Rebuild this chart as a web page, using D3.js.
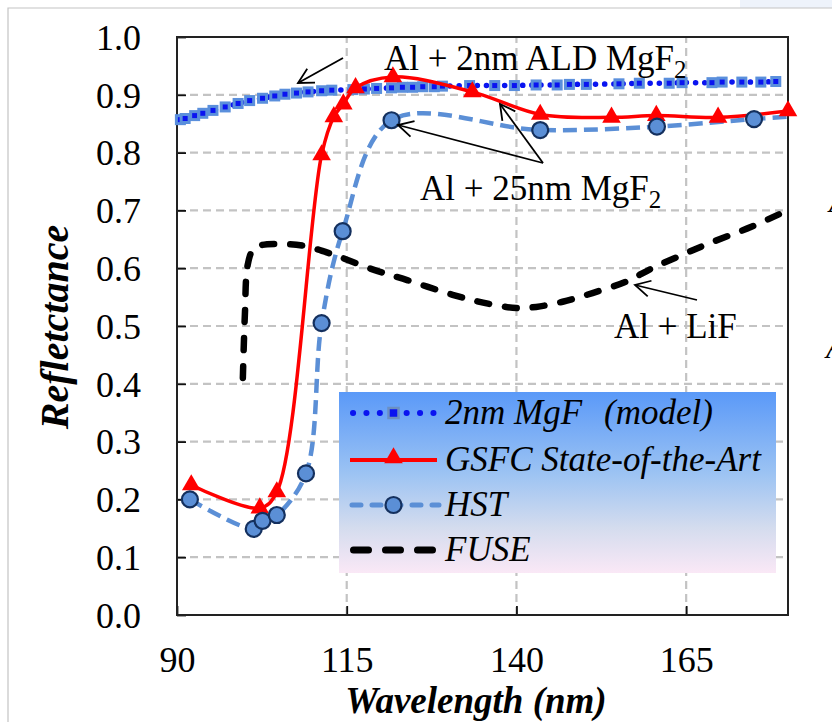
<!DOCTYPE html>
<html>
<head>
<meta charset="utf-8">
<script src="https://cdn.jsdelivr.net/npm/d3@7"></script>
<style>
  body { margin: 0; background: #fff; }
  text { font-family: "Liberation Serif", "Times New Roman", serif; fill: #000; }
</style>
</head>
<body>
<div id="chart"></div>
<script>
// DATA
const xTicks = [90, 115, 140, 165];
const yTicks = [0, 0.1, 0.2, 0.3, 0.4, 0.5, 0.6, 0.7, 0.8, 0.9, 1.0];

// 2nm MgF2 model
const modelWl = [90.5, 91.2, 92.6, 93.8, 95.3, 97.1, 99.0, 100.7, 102.6, 104.4, 105.9, 107.6, 109.3, 111.3, 112.8,
                 115.9, 117.6, 119.4, 121.6, 123.2, 124.7, 126.2, 127.9, 129.1, 133.1, 136.8, 139.7, 142.9, 146.0,
                 147.8, 150.3, 155.1, 158.1, 162.5, 164.4, 168.8, 170.3, 173.2, 176.0, 178.2];
const modelR  = [0.857, 0.859, 0.864, 0.868, 0.873, 0.879, 0.885, 0.890, 0.894, 0.898, 0.901, 0.903, 0.905, 0.907, 0.908,
                 0.909, 0.910, 0.911, 0.912, 0.913, 0.913, 0.914, 0.914, 0.915, 0.916, 0.916, 0.916, 0.917, 0.917,
                 0.918, 0.918, 0.919, 0.920, 0.920, 0.921, 0.921, 0.922, 0.922, 0.922, 0.923];

// GSFC state-of-the-art
const gsfcWl = [92.1, 102.2, 104.7, 111.3, 113.1, 114.5, 116.3, 121.8, 133.5, 143.5, 154.0, 160.6, 169.7, 180.0];
const gsfcR  = [0.225, 0.185, 0.213, 0.796, 0.862, 0.884, 0.912, 0.931, 0.905, 0.866, 0.861, 0.864, 0.861, 0.872];

// HST (markers) + end of the measured curve
const hstWl = [91.9, 101.3, 102.6, 104.7, 109.0, 111.3, 114.4, 121.6, 143.5, 160.7, 175.0];
const hstR  = [0.200, 0.149, 0.163, 0.173, 0.245, 0.505, 0.664, 0.856, 0.839, 0.845, 0.858];
const hstEndWl = [180.0];
const hstEndR  = [0.862];

// FUSE (Al + LiF)
const fuseWl = [99.7, 100.0, 100.4, 101.2, 102.5, 105.0, 108.5, 112.9, 118.8, 124.0, 130.6, 134.1, 137.5,
                140.0, 142.9, 146.8, 151.2, 156.2, 160.0, 164.4, 168.8, 174.7, 178.8];
const fuseR  = [0.410, 0.520, 0.605, 0.632, 0.640, 0.642, 0.639, 0.624, 0.598, 0.579, 0.554, 0.543, 0.535,
                0.531, 0.533, 0.542, 0.557, 0.577, 0.600, 0.623, 0.645, 0.672, 0.694];

const legendLabels = ["2nm MgF", "GSFC State-of-the-Art", "HST", "FUSE"];

// COLOURS
const cModel = "#0a14f0", cModelEdge = "#5a8fdc";
const cRed = "#ff0000";
const cHst = "#5b8fd6", cHstEdge = "#14305e";
const cGrid = "#c3c3c3";

const W = 832, H = 722;
const margin = { top: 37, right: 44, bottom: 107, left: 177 };

const svg = d3.select("#chart").append("svg")
  .attr("width", W).attr("height", H);

// page frame
svg.append("rect").attr("x", 740).attr("y", 0).attr("width", 92).attr("height", 8).attr("fill", "#eef3fb");
svg.append("path").attr("d", `M8,${H} L8,8 L${W},8`).attr("fill", "none")
  .attr("stroke", "#c4c4c4").attr("stroke-width", 1.2);

const x = d3.scaleLinear().domain([90, 180]).range([margin.left, W - margin.right]);
const y = d3.scaleLinear().domain([0, 1]).range([H - margin.bottom, margin.top]);

const zip = (a, b) => a.map((d, i) => [d, b[i]]);
const model = zip(modelWl, modelR);
const gsfc = zip(gsfcWl, gsfcR);
const hst = zip(hstWl, hstR);
const hstLine = hst.concat(zip(hstEndWl, hstEndR));
const fuse = zip(fuseWl, fuseR);

// GRID
const gridG = svg.append("g");
gridG.selectAll(".hgrid").data(yTicks.filter(d => d > 0 && d < 1)).enter().append("line")
  .attr("x1", x(90)).attr("x2", x(180))
  .attr("y1", d => y(d)).attr("y2", d => y(d))
  .attr("stroke", cGrid).attr("stroke-width", 2.2).attr("stroke-dasharray", "8,5");
gridG.selectAll(".vgrid").data(xTicks.filter(d => d > 90)).enter().append("line")
  .attr("x1", d => x(d)).attr("x2", d => x(d))
  .attr("y1", y(0)).attr("y2", y(1))
  .attr("stroke", cGrid).attr("stroke-width", 2.2).attr("stroke-dasharray", "8,5");

// AXES (ticks inside)
const yAxis = d3.axisLeft(y).tickValues(yTicks).tickSize(-9).tickPadding(36).tickFormat(d3.format(".1f"));
const xAxis = d3.axisBottom(x).tickValues(xTicks).tickSize(-9).tickPadding(31).tickFormat(d3.format("d"));

const yAxisG = svg.append("g").attr("transform", `translate(${margin.left},0)`).call(yAxis);
const xAxisG = svg.append("g").attr("transform", `translate(0,${y(0)})`).call(xAxis);
[yAxisG, xAxisG].forEach(g => {
  g.select(".domain").remove();
  g.selectAll(".tick line").attr("stroke", "#111").attr("stroke-width", 1.8);
  g.selectAll(".tick text").attr("font-size", 36).attr("font-family", "Liberation Serif");
});
yAxisG.selectAll(".tick text").attr("dy", "0.34em");

// frame
svg.append("rect").attr("x", x(90)).attr("y", y(1))
  .attr("width", x(180) - x(90)).attr("height", y(0) - y(1))
  .attr("fill", "none").attr("stroke", "#222").attr("stroke-width", 2);

// LEGEND background
const defs = svg.append("defs");
const grad = defs.append("linearGradient").attr("id", "legGrad").attr("x1", 0).attr("y1", 0).attr("x2", 0).attr("y2", 1);
grad.append("stop").attr("offset", "0%").attr("stop-color", "#5a99f8");
grad.append("stop").attr("offset", "45%").attr("stop-color", "#9cc3f3");
grad.append("stop").attr("offset", "75%").attr("stop-color", "#d4dcee");
grad.append("stop").attr("offset", "100%").attr("stop-color", "#fae8f6");

svg.append("rect").attr("x", 339).attr("y", 392).attr("width", 437).attr("height", 181)
  .attr("fill", "url(#legGrad)");

// LINES
const curve = d3.curveCatmullRom.alpha(0.5);
const line = d3.line().x(d => x(d[0])).y(d => y(d[1])).curve(curve);

const plotG = svg.append("g");

// FUSE
plotG.append("path").attr("d", line(fuse)).attr("fill", "none")
  .attr("stroke", "#000").attr("stroke-width", 6.5).attr("stroke-linecap", "round")
  .attr("stroke-dasharray", "12,16");

// HST
plotG.append("path").attr("d", line(hstLine)).attr("fill", "none")
  .attr("stroke", cHst).attr("stroke-width", 4.5).attr("stroke-dasharray", "14,7");

// model
plotG.append("path").attr("d", line(model)).attr("fill", "none")
  .attr("stroke", cModel).attr("stroke-width", 5.5).attr("stroke-linecap", "round")
  .attr("stroke-dasharray", "0.1,9");
plotG.selectAll(".msq").data(model).enter().append("rect")
  .attr("x", d => x(d[0]) - 4).attr("y", d => y(d[1]) - 4)
  .attr("width", 8).attr("height", 8)
  .attr("fill", cModel).attr("stroke", cModelEdge).attr("stroke-width", 3);

// GSFC
plotG.append("path").attr("d", line(gsfc)).attr("fill", "none")
  .attr("stroke", cRed).attr("stroke-width", 3.5);
const tri = d3.symbol().type(d3.symbolTriangle).size(150);
plotG.selectAll(".tri").data(gsfc).enter().append("path")
  .attr("d", tri).attr("transform", d => `translate(${x(d[0])},${y(d[1])})`)
  .attr("fill", cRed);

// HST markers
plotG.selectAll(".hc").data(hst).enter().append("circle")
  .attr("cx", d => x(d[0])).attr("cy", d => y(d[1])).attr("r", 8)
  .attr("fill", cHst).attr("stroke", cHstEdge).attr("stroke-width", 2.2);

// LEGEND entries
const rowY = [413, 460, 505, 550];
const lx0 = 350, lx1 = 437, lxm = (lx0 + lx1) / 2;
const legG = svg.append("g");

legG.append("line").attr("x1", lx0 + 3).attr("x2", lx1 - 3).attr("y1", rowY[0]).attr("y2", rowY[0])
  .attr("stroke", cModel).attr("stroke-width", 6).attr("stroke-linecap", "round").attr("stroke-dasharray", "0.1,13.3");
legG.append("rect").attr("x", lxm - 5).attr("y", rowY[0] - 5).attr("width", 10).attr("height", 10)
  .attr("fill", cModel).attr("stroke", "#6b8fc2").attr("stroke-width", 2.5);

legG.append("line").attr("x1", lx0).attr("x2", lx1).attr("y1", rowY[1]).attr("y2", rowY[1])
  .attr("stroke", cRed).attr("stroke-width", 4);
legG.append("path").attr("d", tri).attr("transform", `translate(${lxm},${rowY[1] - 2})`).attr("fill", cRed);

legG.append("line").attr("x1", lx0 + 2).attr("x2", lx1 + 2).attr("y1", rowY[2]).attr("y2", rowY[2])
  .attr("stroke", cHst).attr("stroke-width", 5).attr("stroke-linecap", "round").attr("stroke-dasharray", "9,11");
legG.append("circle").attr("cx", lxm).attr("cy", rowY[2]).attr("r", 8)
  .attr("fill", cHst).attr("stroke", cHstEdge).attr("stroke-width", 2.2);

legG.append("line").attr("x1", lx0 + 3.5).attr("x2", lx1 - 2).attr("y1", rowY[3]).attr("y2", rowY[3])
  .attr("stroke", "#000").attr("stroke-width", 7).attr("stroke-linecap", "round").attr("stroke-dasharray", "15,17");

legG.selectAll(".lt").data(legendLabels).enter().append("text")
  .attr("x", 445).attr("y", (d, i) => rowY[i] + 11)
  .attr("font-size", 35).attr("font-style", "italic")
  .text(d => d);
legG.append("text").attr("x", 604).attr("y", rowY[0] + 11)
  .attr("font-size", 35).attr("font-style", "italic").text("(model)");

// AXIS TITLES
svg.append("text").attr("x", 476).attr("y", 713).attr("text-anchor", "middle")
  .attr("font-size", 37).attr("font-weight", "bold").attr("font-style", "italic")
  .text("Wavelength (nm)");
svg.append("text").attr("transform", "translate(68,327) rotate(-90)").attr("text-anchor", "middle")
  .attr("font-size", 40).attr("font-weight", "bold").attr("font-style", "italic")
  .text("Refletctance");

// ANNOTATIONS
defs.append("marker").attr("id", "arr").attr("viewBox", "-16 -10 20 20")
  .attr("markerWidth", 20).attr("markerHeight", 20).attr("refX", 0).attr("refY", 0)
  .attr("markerUnits", "userSpaceOnUse").attr("orient", "auto")
  .append("path").attr("d", "M-15,-8 L0,0 L-15,8").attr("fill", "none")
  .attr("stroke", "#000").attr("stroke-width", 1.8);

const arrows = [
  [343, 58, 298, 83],
  [543, 163, 398, 125],
  [543, 163, 500, 104],
  [697, 300, 635, 285]
];
svg.selectAll(".arrow").data(arrows).enter().append("line")
  .attr("x1", d => d[0]).attr("y1", d => d[1]).attr("x2", d => d[2]).attr("y2", d => d[3])
  .attr("stroke", "#000").attr("stroke-width", 1.8).attr("marker-end", "url(#arr)");

function subLabel(xp, yp, main, sub) {
  const t = svg.append("text").attr("x", xp).attr("y", yp).attr("font-size", 35);
  t.append("tspan").text(main);
  t.append("tspan").attr("dy", 8).attr("font-size", 25).text(sub);
}
subLabel(384, 70, "Al + 2nm ALD MgF", "2");
subLabel(420, 200, "Al + 25nm MgF", "2");
svg.append("text").attr("x", 614).attr("y", 338).attr("font-size", 35).text("Al + LiF");

// clipped text from neighbouring figure
svg.append("text").attr("x", 826).attr("y", 358).attr("font-size", 32).attr("font-style", "italic").text("A");
svg.append("text").attr("x", 829).attr("y", 212).attr("font-size", 32).attr("font-style", "italic").text("A");
</script>
</body>
</html>
